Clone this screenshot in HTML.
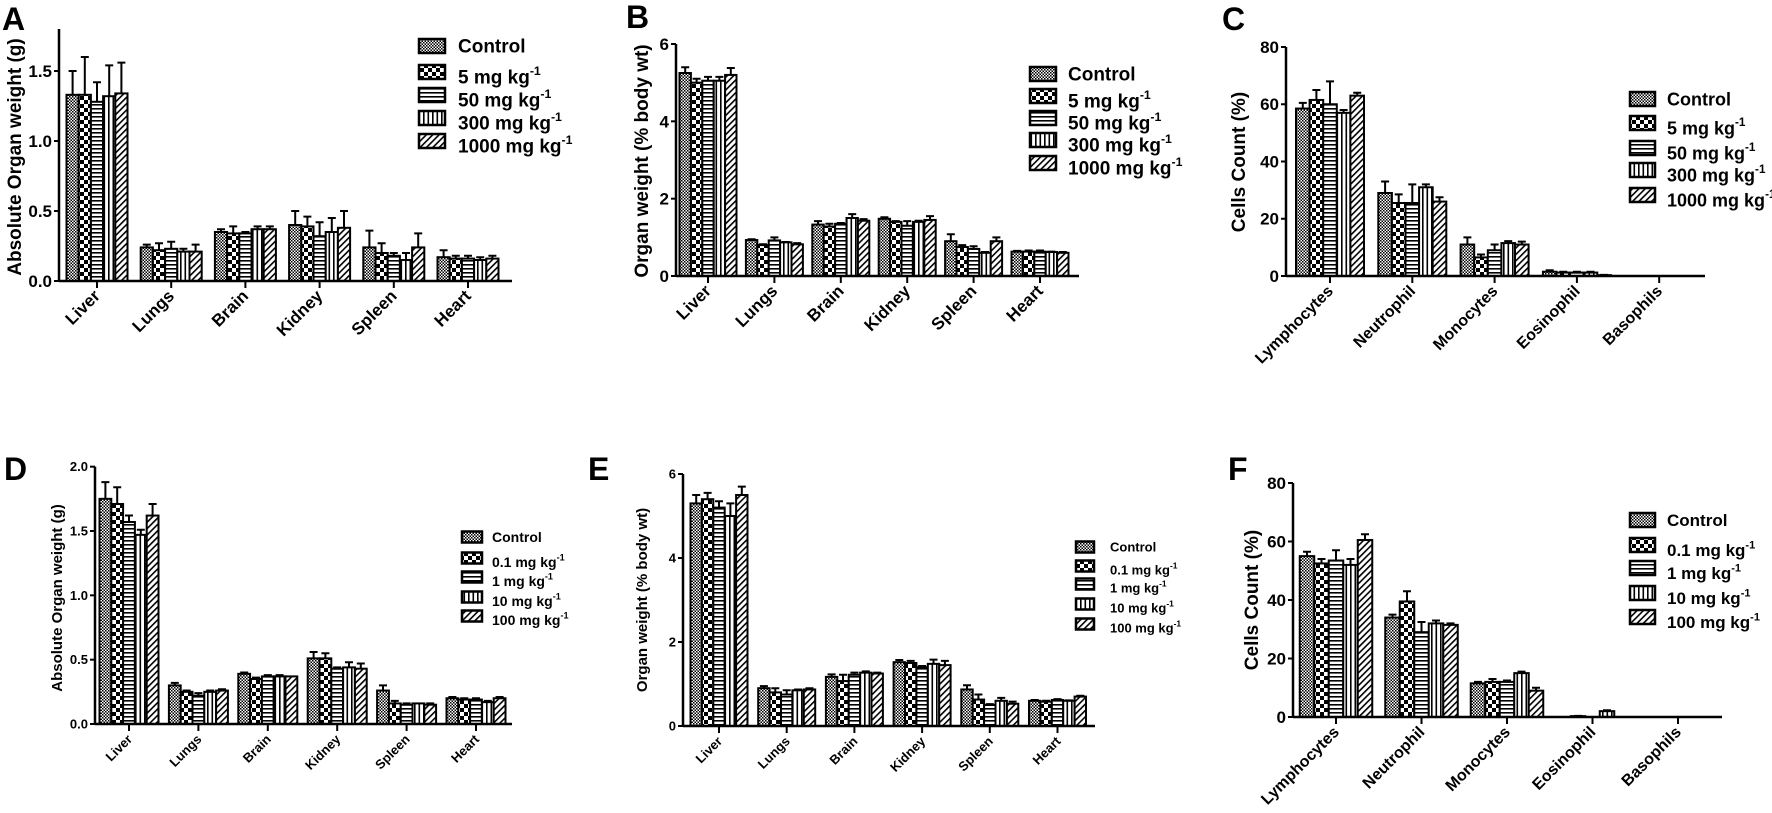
<!DOCTYPE html>
<html><head><meta charset="utf-8"><style>
html,body{margin:0;padding:0;background:#fff}
svg{display:block}
text{font-family:"Liberation Sans",Arial,sans-serif;font-weight:bold;fill:#000}
</style></head><body>
<svg id="fig" width="1772" height="813" viewBox="0 0 1772 813" xmlns="http://www.w3.org/2000/svg">
<defs>
<pattern id="pat0" patternUnits="userSpaceOnUse" width="3" height="3"><rect width="3" height="3" fill="#fff"/><rect width="1.5" height="1.5" fill="#000"/><rect x="1.5" y="1.5" width="1.5" height="1.5" fill="#000"/></pattern>
<pattern id="pat1" patternUnits="userSpaceOnUse" width="8" height="8"><rect width="8" height="8" fill="#fff"/><rect width="4" height="4" fill="#000"/><rect x="4" y="4" width="4" height="4" fill="#000"/></pattern>
<pattern id="pat2" patternUnits="userSpaceOnUse" width="4" height="4"><rect width="4" height="4" fill="#fff"/><rect y="0" width="4" height="1.6" fill="#000"/></pattern>
<pattern id="pat3" patternUnits="userSpaceOnUse" width="4.5" height="4"><rect width="4.5" height="4" fill="#fff"/><rect x="0" width="1.6" height="4" fill="#000"/></pattern>
<pattern id="pat4" patternUnits="userSpaceOnUse" width="4.5" height="4.5" patternTransform="rotate(45)"><rect width="4.5" height="4.5" fill="#fff"/><rect width="1.6" height="4.5" fill="#000"/></pattern>
</defs>
</svg>
<script>
// ---------- DATA ----------
const organCats = ["Liver","Lungs","Brain","Kidney","Spleen","Heart"];
const cellCats = ["Lymphocytes","Neutrophil","Monocytes","Eosinophil","Basophils"];
const seriesTop = ["Control","5 mg kg","50 mg kg","300 mg kg","1000 mg kg"];
const seriesBottom = ["Control","0.1 mg kg","1 mg kg","10 mg kg","100 mg kg"];

const aMeans = [[1.33,1.33,1.28,1.32,1.34],[0.24,0.22,0.23,0.21,0.21],[0.35,0.34,0.34,0.37,0.37],[0.40,0.39,0.32,0.35,0.38],[0.24,0.20,0.18,0.15,0.24],[0.17,0.16,0.16,0.15,0.16]];
const aErrs  = [[0.17,0.27,0.14,0.22,0.22],[0.02,0.05,0.05,0.02,0.05],[0.02,0.05,0.01,0.02,0.02],[0.10,0.07,0.10,0.10,0.12],[0.12,0.07,0.02,0.05,0.10],[0.05,0.02,0.02,0.02,0.02]];
const aTicks = [0,0.5,1.0,1.5];
const aTickLabels = ["0.0","0.5","1.0","1.5"];

const bMeans = [[5.25,5.0,5.05,5.05,5.2],[0.93,0.8,0.92,0.87,0.82],[1.33,1.28,1.35,1.5,1.43],[1.48,1.4,1.3,1.4,1.45],[0.9,0.75,0.7,0.6,0.9],[0.63,0.63,0.63,0.62,0.6]];
const bErrs  = [[0.15,0.1,0.1,0.1,0.18],[0.02,0.02,0.08,0.01,0.03],[0.09,0.07,0.02,0.1,0.04],[0.04,0.02,0.12,0.03,0.1],[0.18,0.05,0.07,0.02,0.1],[0.02,0.03,0.03,0.01,0.02]];
const bTicks = [0,2,4,6];
const bTickLabels = ["0","2","4","6"];

const cMeans = [[58.5,61.5,60,57,63],[29,25.5,25.5,31,26],[11,6.5,9,11.5,11],[1.5,1.2,1.2,1.2,0.3],[0,0,0,0,0]];
const cErrs  = [[2,3.5,8,1,1],[4,3,6.5,1,1.5],[2.5,1,2,0.7,1],[0.5,0.3,0.3,0.3,0.1],[0,0,0,0,0]];
const cTicks = [0,20,40,60,80];
const cTickLabels = ["0","20","40","60","80"];

const dMeans = [[1.75,1.71,1.57,1.47,1.62],[0.30,0.25,0.22,0.25,0.26],[0.39,0.35,0.37,0.37,0.37],[0.51,0.51,0.43,0.44,0.43],[0.26,0.16,0.15,0.16,0.15],[0.20,0.19,0.19,0.17,0.20]];
const dErrs  = [[0.13,0.13,0.05,0.04,0.09],[0.02,0.01,0.02,0.01,0.01],[0.01,0.01,0.01,0.01,0.0],[0.05,0.04,0.01,0.04,0.04],[0.04,0.02,0.01,0.0,0.01],[0.01,0.01,0.01,0.01,0.01]];
const dTicks = [0,0.5,1.0,1.5,2.0];
const dTickLabels = ["0.0","0.5","1.0","1.5","2.0"];

const eMeans = [[5.3,5.4,5.2,5.0,5.5],[0.9,0.8,0.75,0.85,0.87],[1.17,1.07,1.22,1.27,1.25],[1.52,1.5,1.4,1.48,1.45],[0.87,0.63,0.5,0.6,0.53],[0.6,0.58,0.62,0.6,0.7]];
const eErrs  = [[0.2,0.15,0.15,0.3,0.2],[0.05,0.1,0.1,0.02,0.03],[0.06,0.15,0.05,0.03,0.02],[0.05,0.05,0.03,0.1,0.1],[0.1,0.12,0.02,0.07,0.05],[0.02,0.02,0.02,0.01,0.02]];
const eTicks = [0,2,4,6];
const eTickLabels = ["0","2","4","6"];

const fMeans = [[55,52.5,53.5,52,60.5],[34,39.5,29,32,31.5],[11.5,12,12,15,9],[0,0.3,0,2,0],[0,0,0,0,0]];
const fErrs  = [[1.5,1.5,3.5,2,2],[1,3.5,3.5,1,0.5],[0.5,1,0.5,0.5,1],[0,0.1,0,0.3,0],[0,0,0,0,0]];
const fTicks = [0,20,40,60,80];
const fTickLabels = ["0","20","40","60","80"];

// ---------- DRAW ----------
const NS = "http://www.w3.org/2000/svg";
const svg = document.getElementById("fig");
function mk(tag, attrs, parent){
  const e = document.createElementNS(NS, tag);
  for (const k in attrs) e.setAttribute(k, attrs[k]);
  (parent||svg).appendChild(e);
  return e;
}

function drawPanel(p){
  const g = mk("g", {});
  
  
  const yMax = p.ticks[p.ticks.length-1];
  const yScale = v => p.y0 - (v / p.yRef) * (p.y0 - p.yRefPx);
  const xScale = i => p.firstTick + i * p.pitch;

  const L = mk("text", {x:p.letter[0], y:p.letter[1], "font-size":p.letterSize}, g);
  L.textContent = p.id.toUpperCase();
  
  

  p.means.forEach((grp, gi) => {
    grp.forEach((v, si) => {
      const cx = xScale(gi) + (si - 2) * p.bw;
      const x = cx - p.bw/2;
      const yTop = yScale(v);
      if (v > 0) {
        const top = yScale(v + p.errs[gi][si]);
        if (p.errs[gi][si] > 0) {
          const eb = mk("path", {d:`M${cx},${yTop} V${top} M${cx-4},${top} H${cx+4}`, stroke:"#000", "stroke-width":2, fill:"none"}, g);
          
          
        }
        const r = mk("rect", {x:x, y:yTop, width:p.bw, height:p.y0 - yTop, fill:`url(#pat${si})`, stroke:"#000", "stroke-width":2}, g);
        
        
      }
    });
  });

  const topPx = p.axisTop !== undefined ? p.axisTop : yScale(yMax);
  const ya = mk("line", {x1:p.x0, y1:topPx, x2:p.x0, y2:p.y0, stroke:"#000", "stroke-width":2.5}, g);
  
  
  const xa = mk("line", {x1:p.x0, y1:p.y0, x2:p.xEnd, y2:p.y0, stroke:"#000", "stroke-width":2.5}, g);
  
  

  p.ticks.forEach((t, i) => {
    const y = yScale(t);
    mk("line", {x1:p.x0-5, y1:y, x2:p.x0, y2:y, stroke:"#000", "stroke-width":2}, g);
    const tl = mk("text", {x:p.x0-7, y:y + p.tickFont*0.35, "font-size":p.tickFont, "text-anchor":"end"}, g);
    tl.textContent = p.tickLabels[i];
    
    
  });

  p.cats.forEach((c, i) => {
    const x = xScale(i);
    mk("line", {x1:x, y1:p.y0, x2:x, y2:p.y0+7, stroke:"#000", "stroke-width":2}, g);
    const tx = mk("text", {x:x+4, y:p.y0+16, "font-size":p.xFont, "text-anchor":"end", transform:`rotate(-45 ${x+4} ${p.y0+16})`}, g);
    tx.textContent = c;
    
    
  });

  const yt = mk("text", {x:p.yTitle[0], y:p.yTitle[1], "font-size":p.yTitleFont, "text-anchor":"middle", transform:`rotate(-90 ${p.yTitle[0]} ${p.yTitle[1]})`, "dominant-baseline":"middle"}, g);
  yt.textContent = p.yTitleText;
  
  

  p.series.forEach((s, i) => {
    const by = p.legRows[i];
    const lb = mk("rect", {x:p.legX, y:by - p.legBox[1]/2, width:p.legBox[0], height:p.legBox[1], fill:`url(#pat${i})`, stroke:"#000", "stroke-width":2.5}, g);
    
    
    const ty = (i === 0) ? by + p.legFont*0.35 : by + p.legFont*0.35 + p.legTextShift;
    const lt = mk("text", {x:p.legTextX, y:ty, "font-size":p.legFont}, g);
    
    
    if (i === 0) { lt.textContent = s; }
    else {
      const t1 = mk("tspan", {}, lt); t1.textContent = s;
      const t2 = mk("tspan", {dy:-p.legFont*0.45, "font-size":p.legFont*0.65}, lt); t2.textContent = "-1";
    }
  });
}

drawPanel({id:"a", cats:organCats, means:aMeans, errs:aErrs, ticks:aTicks, tickLabels:aTickLabels, series:seriesTop,
  x0:59, y0:281, yRef:1.5, yRefPx:71, axisTop:29, xEnd:512, firstTick:97, pitch:74.2, bw:12.2,
  letter:[2,30], letterSize:32, tickFont:17, xFont:17, yTitle:[16,157], yTitleFont:19, yTitleText:"Absolute Organ weight (g)",
  legX:419, legBox:[26,14], legTextX:458, legRows:[46,72,95,118,141], legFont:19, legTextShift:5});
drawPanel({id:"b", cats:organCats, means:bMeans, errs:bErrs, ticks:bTicks, tickLabels:bTickLabels, series:seriesTop,
  x0:676, y0:276, yRef:6, yRefPx:44, xEnd:1079, firstTick:708, pitch:66.4, bw:11.4,
  letter:[626,28], letterSize:32, tickFont:17, xFont:17, yTitle:[643,161], yTitleFont:19, yTitleText:"Organ weight (% body wt)",
  legX:1030, legBox:[26,14], legTextX:1068, legRows:[74,96,118,140,163], legFont:19, legTextShift:5});
drawPanel({id:"c", cats:cellCats, means:cMeans, errs:cErrs, ticks:cTicks, tickLabels:cTickLabels, series:seriesTop,
  x0:1286, y0:276, yRef:80, yRefPx:47, xEnd:1705, firstTick:1330, pitch:82.3, bw:13.6,
  letter:[1222,30], letterSize:32, tickFont:17, xFont:16, yTitle:[1240,162], yTitleFont:19, yTitleText:"Cells Count (%)",
  legX:1630, legBox:[25,14], legTextX:1667, legRows:[99,123,148,170,195], legFont:18, legTextShift:5});
drawPanel({id:"d", cats:organCats, means:dMeans, errs:dErrs, ticks:dTicks, tickLabels:dTickLabels, series:seriesBottom,
  x0:95, y0:724, yRef:1.5, yRefPx:531, xEnd:512, firstTick:129, pitch:69.4, bw:11.8,
  letter:[4,480], letterSize:32, tickFont:13, xFont:13, yTitle:[58,598], yTitleFont:15, yTitleText:"Absolute Organ weight (g)",
  legX:462, legBox:[20,11], legTextX:492, legRows:[537,558,577,597,616], legFont:14, legTextShift:4});
drawPanel({id:"e", cats:organCats, means:eMeans, errs:eErrs, ticks:eTicks, tickLabels:eTickLabels, series:seriesBottom,
  x0:683, y0:726, yRef:4, yRefPx:558, xEnd:1095, firstTick:719, pitch:67.7, bw:11.4,
  letter:[588,480], letterSize:32, tickFont:13, xFont:13, yTitle:[643,600], yTitleFont:15, yTitleText:"Organ weight (% body wt)",
  legX:1076, legBox:[18,11], legTextX:1110, legRows:[547,566,584,604,624], legFont:13, legTextShift:4});
drawPanel({id:"f", cats:cellCats, means:fMeans, errs:fErrs, ticks:fTicks, tickLabels:fTickLabels, series:seriesBottom,
  x0:1293, y0:717, yRef:80, yRefPx:483, xEnd:1722, firstTick:1336, pitch:85.5, bw:14.5,
  letter:[1228,480], letterSize:32, tickFont:17, xFont:16, yTitle:[1253,600], yTitleFont:19, yTitleText:"Cells Count (%)",
  legX:1630, legBox:[25,14], legTextX:1667, legRows:[520,545,568,593,617], legFont:17, legTextShift:5});
</script>
</body></html>
